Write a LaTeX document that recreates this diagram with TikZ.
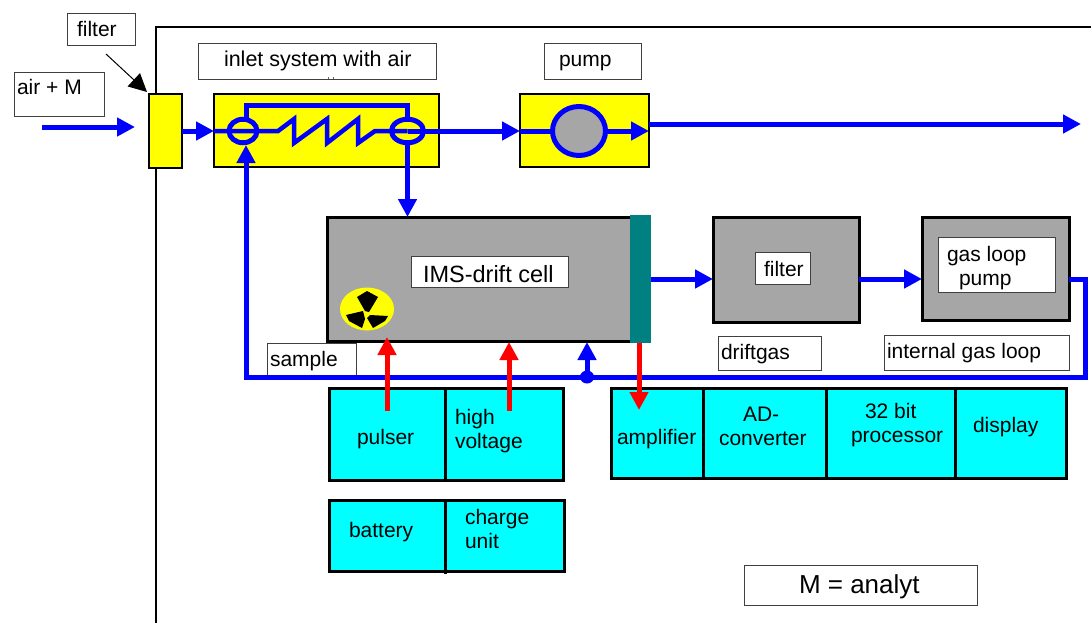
\documentclass[tikz,border=0pt]{standalone}
\usepackage{fontspec}
\setmainfont{Liberation Sans}
\usetikzlibrary{arrows.meta,shapes.geometric,calc}
\definecolor{fblue}{HTML}{0000FF}
\definecolor{fyellow}{HTML}{FFFF00}
\definecolor{fcyan}{HTML}{00FFFF}
\definecolor{fgray}{HTML}{A6A6A6}
\definecolor{fteal}{HTML}{008080}
\definecolor{fred}{HTML}{FF0000}
\newcommand{\bx}[6]{\node[#1,minimum width={(#5-#3)*1pt},minimum height={(#6-#4)*1pt}] (#2) at ({(#3+#5)/2},{(#4+#6)/2}) {};}
\tikzset{
  blockbox/.style={rectangle,draw=black,line width=2.5pt,inner sep=0pt,outer sep=0pt},
  yellowbox/.style={blockbox,fill=fyellow},
  graybox/.style={blockbox,fill=fgray,line width=3pt},
  cyanbox/.style={blockbox,fill=fcyan,line width=3pt},
  labelbox/.style={rectangle,draw=black!75,fill=white,line width=1pt,inner sep=0pt,outer sep=0pt},
  txt/.style={inner sep=0pt,outer sep=0pt,anchor=base west,align=left,font=\fontsize{21}{24}\selectfont},
  flow/.style={draw=fblue,line width=5pt},
  flowthin/.style={draw=fblue,line width=4.5pt,line join=miter},
  flowarrow/.style={flow,-{Triangle[length=18pt,width=18pt]}},
  sig/.style={draw=fred,line width=5pt,-{Triangle[length=18pt,width=18pt]}},
  valve/.style={ellipse,draw=fblue,line width=5pt,inner sep=0pt,outer sep=0pt},
  divider/.style={draw=black,line width=3pt}
}
\begin{document}
\begin{tikzpicture}[x=1pt,y=-1pt]
\useasboundingbox (0,0) rectangle (1091,623);
% frame
\coordinate (frameA) at (156,623);
\coordinate (frameB) at (156,27);
\coordinate (frameC) at (1091,27);
\draw[black,line width=2pt] (frameA) -- (frameB) -- (frameC);
% upper blocks
\bx{yellowbox}{fb}{149}{94}{182}{168}
\bx{yellowbox}{inlet}{214}{94}{439}{167}
\bx{yellowbox}{pumpb}{520}{94}{649}{167}
% label boxes
\bx{labelbox}{lfilter}{67}{14}{135}{46}
\bx{labelbox}{lair}{14}{73}{104}{117}
\bx{labelbox}{linlet}{198}{44}{436}{80}
\bx{labelbox}{lpump}{544}{44}{641}{80}
\node[txt] (tfilter) at (77,37) {filter};
\node[txt] (tair) at (17,95) {air + M};
\node[txt,font=\fontsize{21.5}{24}\selectfont] (tinlet) at (224,67) {inlet system with air};
\node[txt] (tpump) at (559,67) {pump};
\draw[black!60,line width=1pt] (328,77) -- (328,79) (333,77) -- (333,79);
% filter pointer
\coordinate (ptr) at (106,54);
\coordinate (ptrtip) at (147,92);
\draw[black,line width=1pt,-{Triangle[length=18pt,width=18pt]}] (ptr) -- (ptrtip);
% lower blocks
\bx{graybox}{ims}{327}{217}{632}{341}
\bx{graybox}{fblock}{713}{217}{859}{322}
\bx{graybox}{gas}{922}{217}{1069}{320}
\node[rectangle,fill=fteal,inner sep=0pt,outer sep=0pt,minimum width=21pt,minimum height=128pt] (det) at (640.5,279) {};
\bx{labelbox}{lims}{411}{256}{568}{287}
\bx{labelbox}{lfb}{755}{252}{810}{284}
\bx{labelbox}{lgas}{938}{237}{1055}{292}
\bx{labelbox}{lsample}{267}{343}{356}{375}
\bx{labelbox}{ldrift}{718}{336}{821}{370}
\bx{labelbox}{lloop}{884}{335}{1069}{370}
\node[txt,font=\fontsize{23.5}{26}\selectfont] (tims) at (423,282) {IMS-drift cell};
\node[txt] (tfb) at (764,276) {filter};
\node[txt] (tgas) at (947,285) {gas loop\\\hspace*{12pt}pump};
\node[txt] (tsample) at (270,366) {sample};
\node[txt] (tdrift) at (721,359) {driftgas};
\node[txt] (tloop) at (887,358) {internal gas loop};
% source symbol
\node[ellipse,fill=fyellow,inner sep=0pt,outer sep=0pt,minimum width=54pt,minimum height=43pt] (src) at (367,309) {};
\fill[black] (357,297) -- (367,291) -- (378,297) -- (369,312) -- (365,311) -- cycle;
\fill[black] (346,315) -- (363,311) -- (365,319) -- (362,328) -- (349,321) -- cycle;
\fill[black] (370,315) -- (388,316) -- (385,321) -- (373,328) -- (367,318) -- cycle;
% cyan blocks
\bx{cyanbox}{pwr}{329}{388}{563}{480}
\bx{cyanbox}{bat}{329}{500}{564}{571}
\bx{cyanbox}{elec}{611}{388}{1066}{478}
\coordinate (d1a) at (445,388); \coordinate (d1b) at (445,480);
\coordinate (d2a) at (445.5,500); \coordinate (d2b) at (445.5,574);
\coordinate (d3a) at (703,388); \coordinate (d3b) at (703,478);
\coordinate (d4a) at (826,388); \coordinate (d4b) at (826,478);
\coordinate (d5a) at (955,388); \coordinate (d5b) at (955,478);
\draw[divider] (d1a) -- (d1b);
\draw[divider] (d2a) -- (d2b);
\draw[divider] (d3a) -- (d3b);
\draw[divider] (d4a) -- (d4b);
\draw[divider] (d5a) -- (d5b);
\node[txt] (tpulser) at (357,444) {pulser};
\node[txt] (thv) at (455,448) {high\\voltage};
\node[txt] (tbat) at (349,537) {battery};
\node[txt] (tcharge) at (465,548) {charge\\unit};
\node[txt] (tamp) at (617,444) {amplifier};
\node[txt] (tad) at (719,445) {\hspace*{24pt}AD-\\converter};
\node[txt] (tproc) at (851,442) {\hspace*{14pt}32 bit\\processor};
\node[txt] (tdisp) at (973,432) {display};
\bx{labelbox}{lm}{744}{565}{977}{605}
\node[txt,font=\fontsize{26}{30}\selectfont] (tm) at (799,593) {M = analyt};
% inlet flow system
\node[valve,minimum width=28pt,minimum height=23.5pt] (vL) at (243,131) {};
\node[valve,minimum width=32pt,minimum height=23.5pt] (vR) at (407.5,131) {};
\coordinate (byL) at (246,106);
\coordinate (byR) at (407.5,106);
\draw[flow] (vL.north -| byL) -- (byL) -- (byR) -- (vR.north);
\coordinate (c0) at (278,131);
\coordinate (c1) at (294,119); \coordinate (c2) at (294,143);
\coordinate (c3) at (327,119); \coordinate (c4) at (327,143);
\coordinate (c5) at (358,119); \coordinate (c6) at (358,143);
\coordinate (c7) at (375,131);
\draw[flowthin] (inlet.west |- vL) -- (c0) -- (c1) -- (c2) -- (c3) -- (c4) -- (c5) -- (c6) -- (c7) -- (vR.center);
% arrows
\coordinate (airstart) at (42,127);
\coordinate (airend) at (135,127);
\draw[flowarrow] (airstart) -- (airend);
\draw[flowarrow] (fb.east |- vL) -- (inlet.west |- vL);
\draw[flowarrow] (vR.center) -- (pumpb.west |- vR);
\node[ellipse,draw=fblue,fill=fgray,line width=5pt,inner sep=0pt,outer sep=0pt,minimum width=53pt,minimum height=49pt] (pumpc) at (579,131) {};
\draw[flow] (pumpb.west |- pumpc) -- (pumpc.west);
\draw[flowarrow] (pumpc.east) -- (pumpb.east |- pumpc);
\coordinate (exA) at (649,124);
\coordinate (exB) at (1081,124);
\draw[flowarrow] (exA) -- (exB);
\draw[flowarrow] (vR.south) -- (vR.south |- ims.north);
\coordinate (dy) at (0,279);
\draw[flowarrow] (det.east |- dy) -- (fblock.west |- dy);
\draw[flowarrow] (fblock.east |- dy) -- (gas.west |- dy);
\coordinate (loopR1) at (1085,279);
\coordinate (loopR2) at (1085,377);
\coordinate (loopL) at (246,377);
\coordinate (tipL) at (246,145);
\draw[flow,line join=miter,-{Triangle[length=18pt,width=18pt]}] (gas.east |- dy) -- (loopR1) -- (loopR2) -- (loopL) -- (tipL);
\node[ellipse,fill=fblue,inner sep=0pt,outer sep=0pt,minimum width=14pt,minimum height=13pt] (junc) at (587,377) {};
\coordinate (jtip) at (587,342);
\draw[flowarrow] (junc) -- (jtip);
% signal arrows
\coordinate (r1a) at (387,411); \coordinate (r1b) at (387,337);
\coordinate (r2a) at (509,411); \coordinate (r2b) at (509,342);
\coordinate (r3a) at (639,343); \coordinate (r3b) at (639,410);
\draw[sig] (r1a) -- (r1b);
\draw[sig] (r2a) -- (r2b);
\draw[sig] (r3a) -- (r3b);
\end{tikzpicture}
\end{document}
